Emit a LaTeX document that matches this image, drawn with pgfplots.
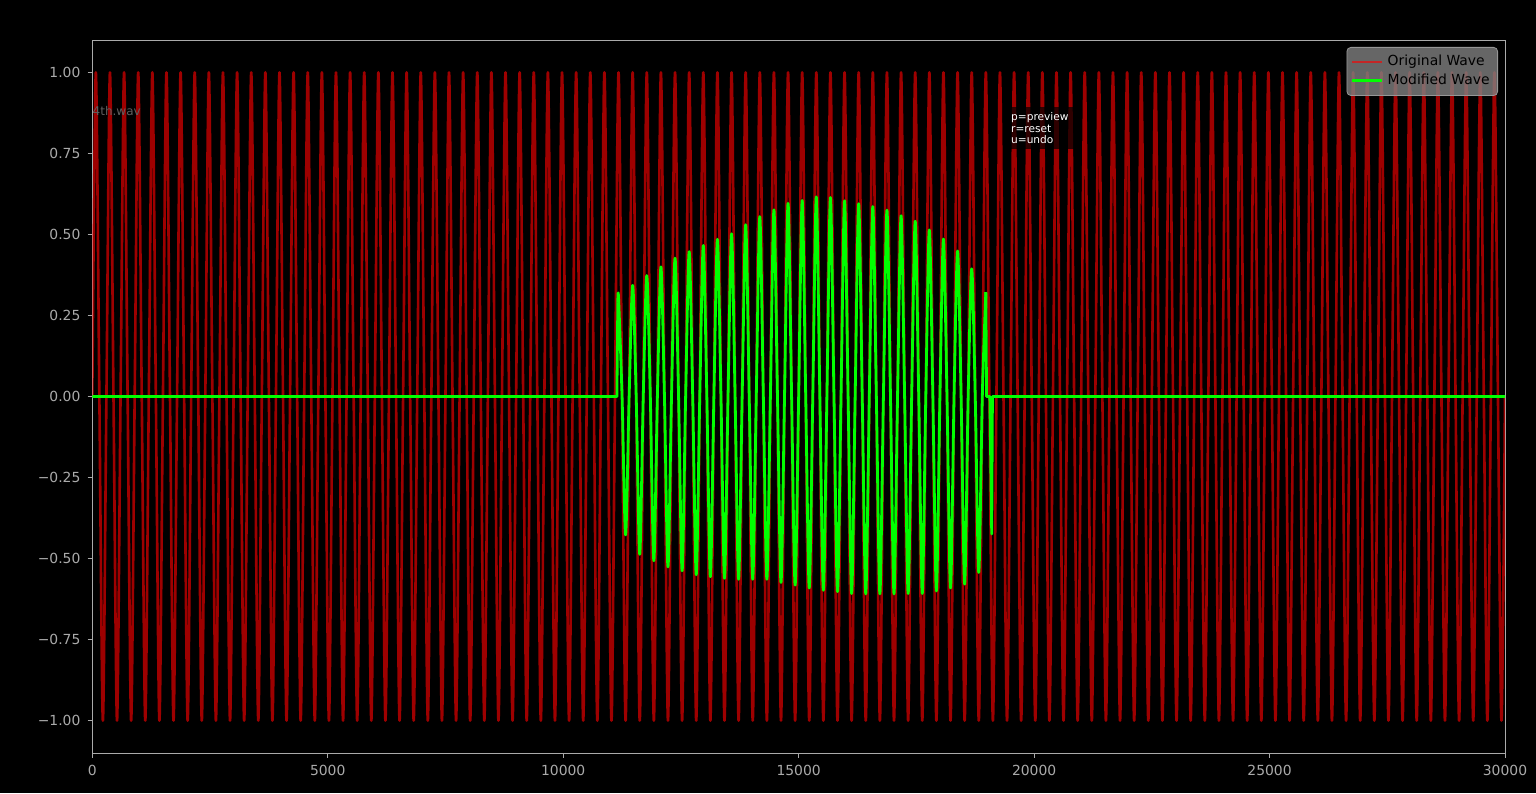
\documentclass[border=0pt]{standalone}
\usepackage{fontspec}
\setmainfont{DejaVu Sans}
\usepackage{pgfplots}
\pgfplotsset{compat=1.18}
\definecolor{axgray}{RGB}{170,170,170}
\definecolor{limeg}{RGB}{0,255,0}
\definecolor{dimtext}{RGB}{95,95,95}
\begin{document}
\begin{tikzpicture}
\fill[black] (-46.15pt,-20pt) rectangle (721.85pt,376.5pt);
\begin{axis}[
  at={(0,0)}, anchor=south west,
  scale only axis, width=706.35pt, height=356.5pt,
  xmin=0, xmax=30000, ymin=-1.1, ymax=1.1,
  scaled x ticks=false, scaled y ticks=false,
  axis line style={axgray, line width=0.4pt},
  tick style={axgray, line width=0.4pt},
  tick align=outside, major tick length=2.4pt,
  xtick pos=bottom, ytick pos=left,
  xtick={0,5000,10000,15000,20000,25000,30000},
  xticklabels={0,5000,10000,15000,20000,25000,30000},
  ytick={-1,-0.75,-0.5,-0.25,0,0.25,0.5,0.75,1},
  yticklabels={−1.00,−0.75,−0.50,−0.25,0.00,0.25,0.50,0.75,1.00},
  ticklabel style={font=\fontsize{6.95}{8}\selectfont, text=axgray},
  legend style={at={(1,1)}, anchor=north east, xshift=-3.5pt, yshift=-3.5pt,
    fill=gray, fill opacity=0.8, text opacity=1, draw={rgb,255:red,150;green,150;blue,150},
    rounded corners=2pt, font=\fontsize{6.95}{8}\selectfont, text=black,
    row sep=-1.5pt, inner sep=2pt},
  legend cell align=left,
  legend image code/.code={\draw[#1] (0pt,0pt) -- (15pt,0pt);},
]
\addplot[red, draw opacity=0.62, line width=1.3pt, line join=round, smooth] coordinates {
(0,0)(75,1)(150,0)(225,-1)(300,0)(375,1)(450,0)(525,-1)(600,0)(675,1)(750,0)(825,-1)(900,0)(975,1)(1050,0)(1125,-1)(1200,0)(1275,1)(1350,0)(1425,-1)(1500,0)(1575,1)(1650,0)(1725,-1)(1800,0)(1875,1)(1950,0)(2025,-1)(2100,0)(2175,1)(2250,0)(2325,-1)(2400,0)(2475,1)(2550,0)(2625,-1)(2700,0)(2775,1)(2850,0)(2925,-1)
(3000,0)(3075,1)(3150,0)(3225,-1)(3300,0)(3375,1)(3450,0)(3525,-1)(3600,0)(3675,1)(3750,0)(3825,-1)(3900,0)(3975,1)(4050,0)(4125,-1)(4200,0)(4275,1)(4350,0)(4425,-1)(4500,0)(4575,1)(4650,0)(4725,-1)(4800,0)(4875,1)(4950,0)(5025,-1)(5100,0)(5175,1)(5250,0)(5325,-1)(5400,0)(5475,1)(5550,0)(5625,-1)(5700,0)(5775,1)(5850,0)(5925,-1)
(6000,0)(6075,1)(6150,0)(6225,-1)(6300,0)(6375,1)(6450,0)(6525,-1)(6600,0)(6675,1)(6750,0)(6825,-1)(6900,0)(6975,1)(7050,0)(7125,-1)(7200,0)(7275,1)(7350,0)(7425,-1)(7500,0)(7575,1)(7650,0)(7725,-1)(7800,0)(7875,1)(7950,0)(8025,-1)(8100,0)(8175,1)(8250,0)(8325,-1)(8400,0)(8475,1)(8550,0)(8625,-1)(8700,0)(8775,1)(8850,0)(8925,-1)
(9000,0)(9075,1)(9150,0)(9225,-1)(9300,0)(9375,1)(9450,0)(9525,-1)(9600,0)(9675,1)(9750,0)(9825,-1)(9900,0)(9975,1)(10050,0)(10125,-1)(10200,0)(10275,1)(10350,0)(10425,-1)(10500,0)(10575,1)(10650,0)(10725,-1)(10800,0)(10875,1)(10950,0)(11025,-1)(11100,0)(11175,1)(11250,0)(11325,-1)(11400,0)(11475,1)(11550,0)(11625,-1)(11700,0)(11775,1)(11850,0)(11925,-1)
(12000,0)(12075,1)(12150,0)(12225,-1)(12300,0)(12375,1)(12450,0)(12525,-1)(12600,0)(12675,1)(12750,0)(12825,-1)(12900,0)(12975,1)(13050,0)(13125,-1)(13200,0)(13275,1)(13350,0)(13425,-1)(13500,0)(13575,1)(13650,0)(13725,-1)(13800,0)(13875,1)(13950,0)(14025,-1)(14100,0)(14175,1)(14250,0)(14325,-1)(14400,0)(14475,1)(14550,0)(14625,-1)(14700,0)(14775,1)(14850,0)(14925,-1)
(15000,0)(15075,1)(15150,0)(15225,-1)(15300,0)(15375,1)(15450,0)(15525,-1)(15600,0)(15675,1)(15750,0)(15825,-1)(15900,0)(15975,1)(16050,0)(16125,-1)(16200,0)(16275,1)(16350,0)(16425,-1)(16500,0)(16575,1)(16650,0)(16725,-1)(16800,0)(16875,1)(16950,0)(17025,-1)(17100,0)(17175,1)(17250,0)(17325,-1)(17400,0)(17475,1)(17550,0)(17625,-1)(17700,0)(17775,1)(17850,0)(17925,-1)
(18000,0)(18075,1)(18150,0)(18225,-1)(18300,0)(18375,1)(18450,0)(18525,-1)(18600,0)(18675,1)(18750,0)(18825,-1)(18900,0)(18975,1)(19050,0)(19125,-1)(19200,0)(19275,1)(19350,0)(19425,-1)(19500,0)(19575,1)(19650,0)(19725,-1)(19800,0)(19875,1)(19950,0)(20025,-1)(20100,0)(20175,1)(20250,0)(20325,-1)(20400,0)(20475,1)(20550,0)(20625,-1)(20700,0)(20775,1)(20850,0)(20925,-1)
(21000,0)(21075,1)(21150,0)(21225,-1)(21300,0)(21375,1)(21450,0)(21525,-1)(21600,0)(21675,1)(21750,0)(21825,-1)(21900,0)(21975,1)(22050,0)(22125,-1)(22200,0)(22275,1)(22350,0)(22425,-1)(22500,0)(22575,1)(22650,0)(22725,-1)(22800,0)(22875,1)(22950,0)(23025,-1)(23100,0)(23175,1)(23250,0)(23325,-1)(23400,0)(23475,1)(23550,0)(23625,-1)(23700,0)(23775,1)(23850,0)(23925,-1)
(24000,0)(24075,1)(24150,0)(24225,-1)(24300,0)(24375,1)(24450,0)(24525,-1)(24600,0)(24675,1)(24750,0)(24825,-1)(24900,0)(24975,1)(25050,0)(25125,-1)(25200,0)(25275,1)(25350,0)(25425,-1)(25500,0)(25575,1)(25650,0)(25725,-1)(25800,0)(25875,1)(25950,0)(26025,-1)(26100,0)(26175,1)(26250,0)(26325,-1)(26400,0)(26475,1)(26550,0)(26625,-1)(26700,0)(26775,1)(26850,0)(26925,-1)
(27000,0)(27075,1)(27150,0)(27225,-1)(27300,0)(27375,1)(27450,0)(27525,-1)(27600,0)(27675,1)(27750,0)(27825,-1)(27900,0)(27975,1)(28050,0)(28125,-1)(28200,0)(28275,1)(28350,0)(28425,-1)(28500,0)(28575,1)(28650,0)(28725,-1)(28800,0)(28875,1)(28950,0)(29025,-1)(29100,0)(29175,1)(29250,0)(29325,-1)(29400,0)(29475,1)(29550,0)(29625,-1)(29700,0)(29775,1)(29850,0)(29925,-1)(30000,0)
};
\addlegendentry{Original Wave}
\addplot[limeg, line width=1.4pt, line join=round] coordinates {(0,0)(11140,0)(11160,0.29)};
\addlegendentry{Modified Wave}
\addplot[limeg, line width=1.4pt, line join=round, smooth, forget plot] coordinates {
(11160,0.29)(11175,0.305)(11250,0)(11325,-0.427)(11400,0)(11475,0.343)(11550,0)(11625,-0.487)(11700,0)(11775,0.373)(11850,0)(11925,-0.507)(12000,0)(12075,0.40)(12150,0)(12225,-0.526)(12300,0)(12375,0.427)(12450,0)(12525,-0.538)(12600,0)(12675,0.447)(12750,0)(12825,-0.550)(12900,0)(12975,0.466)(13050,0)(13125,-0.556)(13200,0)(13275,0.485)(13350,0)(13425,-0.561)(13500,0)(13575,0.502)(13650,0)(13725,-0.564)(13800,0)(13875,0.530)(13950,0)(14025,-0.564)(14100,0)(14175,0.555)(14250,0)(14325,-0.564)(14400,0)(14475,0.576)(14550,0)(14625,-0.574)(14700,0)(14775,0.596)(14850,0)(14925,-0.582)(15000,0)(15075,0.605)(15150,0)(15225,-0.591)(15300,0)(15375,0.616)(15450,0)(15525,-0.598)(15600,0)(15675,0.614)(15750,0)(15825,-0.602)(15900,0)(15975,0.604)(16050,0)(16125,-0.608)(16200,0)(16275,0.595)(16350,0)(16425,-0.609)(16500,0)(16575,0.586)(16650,0)(16725,-0.609)(16800,0)(16875,0.575)(16950,0)(17025,-0.609)(17100,0)(17175,0.558)(17250,0)(17325,-0.608)(17400,0)(17475,0.541)(17550,0)(17625,-0.608)(17700,0)(17775,0.514)(17850,0)(17925,-0.600)(18000,0)(18075,0.486)(18150,0)(18225,-0.591)(18300,0)(18375,0.449)(18450,0)(18525,-0.579)(18600,0)(18675,0.394)(18750,0)(18825,-0.543)(18900,0)(18975,0.322)
};
\addplot[limeg, line width=1.4pt, line join=round, forget plot] coordinates {(18975,0.322)(18990,0)(19060,0)(19100,-0.424)(19115,0)(30000,0)};
\node[anchor=west, inner sep=0pt, text=dimtext, font=\fontsize{6}{7}\selectfont] at (rel axis cs:0,0.9) {4th.wav};
\node[anchor=north west, fill=black, fill opacity=0.7, text opacity=1, text=white, inner sep=2.5pt, align=left, font=\fontsize{5.3}{5.8}\selectfont] at (rel axis cs:0.6466,0.906) {p=preview\\r=reset\\u=undo};
\end{axis}
\end{tikzpicture}
\end{document}
